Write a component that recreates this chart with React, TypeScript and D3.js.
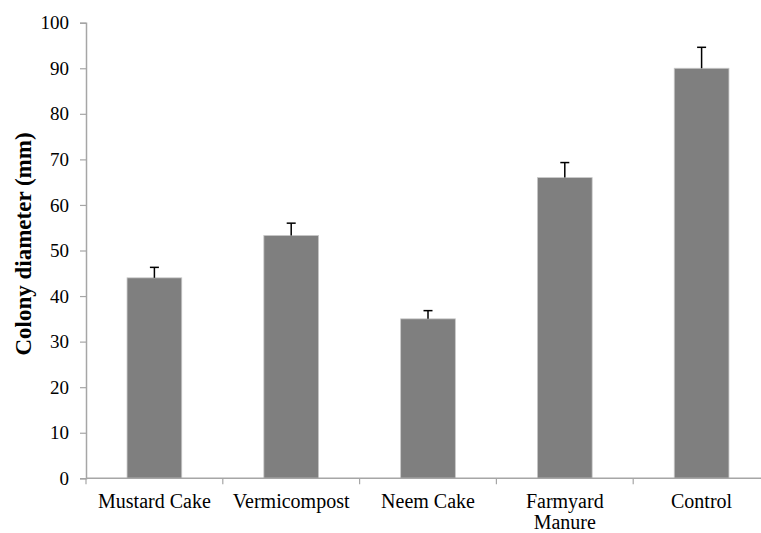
import React, { useEffect, useRef } from 'react';
import * as d3 from 'd3';

const categories = ['Mustard Cake', 'Vermicompost', 'Neem Cake', 'Farmyard Manure', 'Control'];
const means = [44, 53.3, 35, 66, 90];
const errors = [2.3, 2.7, 1.8, 3.3, 4.6];
const yTicks = [0, 10, 20, 30, 40, 50, 60, 70, 80, 90, 100];

const App = () => {
  const svgRef = useRef<SVGSVGElement>(null);

  useEffect(() => {
    const svg = d3.select(svgRef.current);
    svg.selectAll('*').remove();

    const left = 86;
    const bandW = 136.8;
    const top = 22.7;
    const bottom = 478.3;
    const font = '"Liberation Serif", "Times New Roman", serif';

    const x = d3
      .scaleBand<string>()
      .domain(categories)
      .range([left, left + bandW * categories.length])
      .paddingInner(0.6)
      .paddingOuter(0.3);

    const y = d3.scaleLinear().domain([0, 100]).range([bottom, top]);

    const g = svg.append('g');

    // bars
    g.selectAll('rect.bar')
      .data(categories)
      .join('rect')
      .attr('class', 'bar')
      .attr('x', (d) => x(d)!)
      .attr('width', x.bandwidth())
      .attr('y', (d, i) => y(means[i]))
      .attr('height', (d, i) => y(0) - y(means[i]))
      .attr('fill', '#7f7f7f')
      .attr('stroke', '#c8c8c8')
      .attr('stroke-width', 0.8);

    // error bars (upper only)
    const eb = g
      .selectAll('g.err')
      .data(categories)
      .join('g')
      .attr('class', 'err')
      .attr('stroke', '#000')
      .attr('stroke-width', 1.5);

    eb.append('line')
      .attr('x1', (d) => x(d)! + x.bandwidth() / 2)
      .attr('x2', (d) => x(d)! + x.bandwidth() / 2)
      .attr('y1', (d, i) => y(means[i]))
      .attr('y2', (d, i) => y(means[i] + errors[i]));

    eb.append('line')
      .attr('x1', (d) => x(d)! + x.bandwidth() / 2 - 4.5)
      .attr('x2', (d) => x(d)! + x.bandwidth() / 2 + 4.5)
      .attr('y1', (d, i) => y(means[i] + errors[i]))
      .attr('y2', (d, i) => y(means[i] + errors[i]));

    // y axis
    const yAxis = g
      .append('g')
      .attr('transform', `translate(${left},0)`)
      .attr('font-family', font)
      .call(d3.axisLeft(y).tickValues(yTicks).tickSize(6).tickPadding(11));
    yAxis.select('.domain').attr('stroke', '#a6a6a6').attr('stroke-width', 1.5);
    yAxis.selectAll('.tick line').attr('stroke', '#a6a6a6').attr('stroke-width', 1.2);
    yAxis
      .selectAll('.tick text')
      .attr('font-family', font)
      .attr('font-size', 19)
      .attr('fill', '#000');

    // x axis: baseline with ticks at category boundaries
    const xEnd = left + bandW * categories.length;
    g.append('line')
      .attr('x1', left)
      .attr('x2', xEnd)
      .attr('y1', bottom)
      .attr('y2', bottom)
      .attr('stroke', '#a6a6a6')
      .attr('stroke-width', 1.5);

    g.selectAll('line.xtick')
      .data(d3.range(categories.length + 1))
      .join('line')
      .attr('class', 'xtick')
      .attr('x1', (i) => left + i * bandW)
      .attr('x2', (i) => left + i * bandW)
      .attr('y1', bottom)
      .attr('y2', bottom + 6)
      .attr('stroke', '#a6a6a6')
      .attr('stroke-width', 1.2);

    g.selectAll('text.xlab')
      .data(categories)
      .join('text')
      .attr('class', 'xlab')
      .attr('font-family', font)
      .attr('font-size', 20)
      .attr('text-anchor', 'middle')
      .attr('fill', '#000')
      .each(function (d) {
        const cx = x(d)! + x.bandwidth() / 2;
        const lines = d === 'Farmyard Manure' ? ['Farmyard', 'Manure'] : [d];
        const t = d3.select(this);
        lines.forEach((l, k) => {
          t.append('tspan')
            .attr('x', cx)
            .attr('y', bottom + 30 + k * 21)
            .text(l);
        });
      });

    // y title
    g.append('text')
      .attr('transform', `translate(31,244) rotate(-90)`)
      .attr('text-anchor', 'middle')
      .attr('font-family', font)
      .attr('font-size', 23)
      .attr('font-weight', 'bold')
      .attr('fill', '#000')
      .text('Colony diameter (mm)');
  }, []);

  return (
    <svg
      ref={svgRef}
      width={761}
      height={533}
      style={{ position: 'absolute', left: 0, top: 0, background: '#fff' }}
    />
  );
};

export default App;
